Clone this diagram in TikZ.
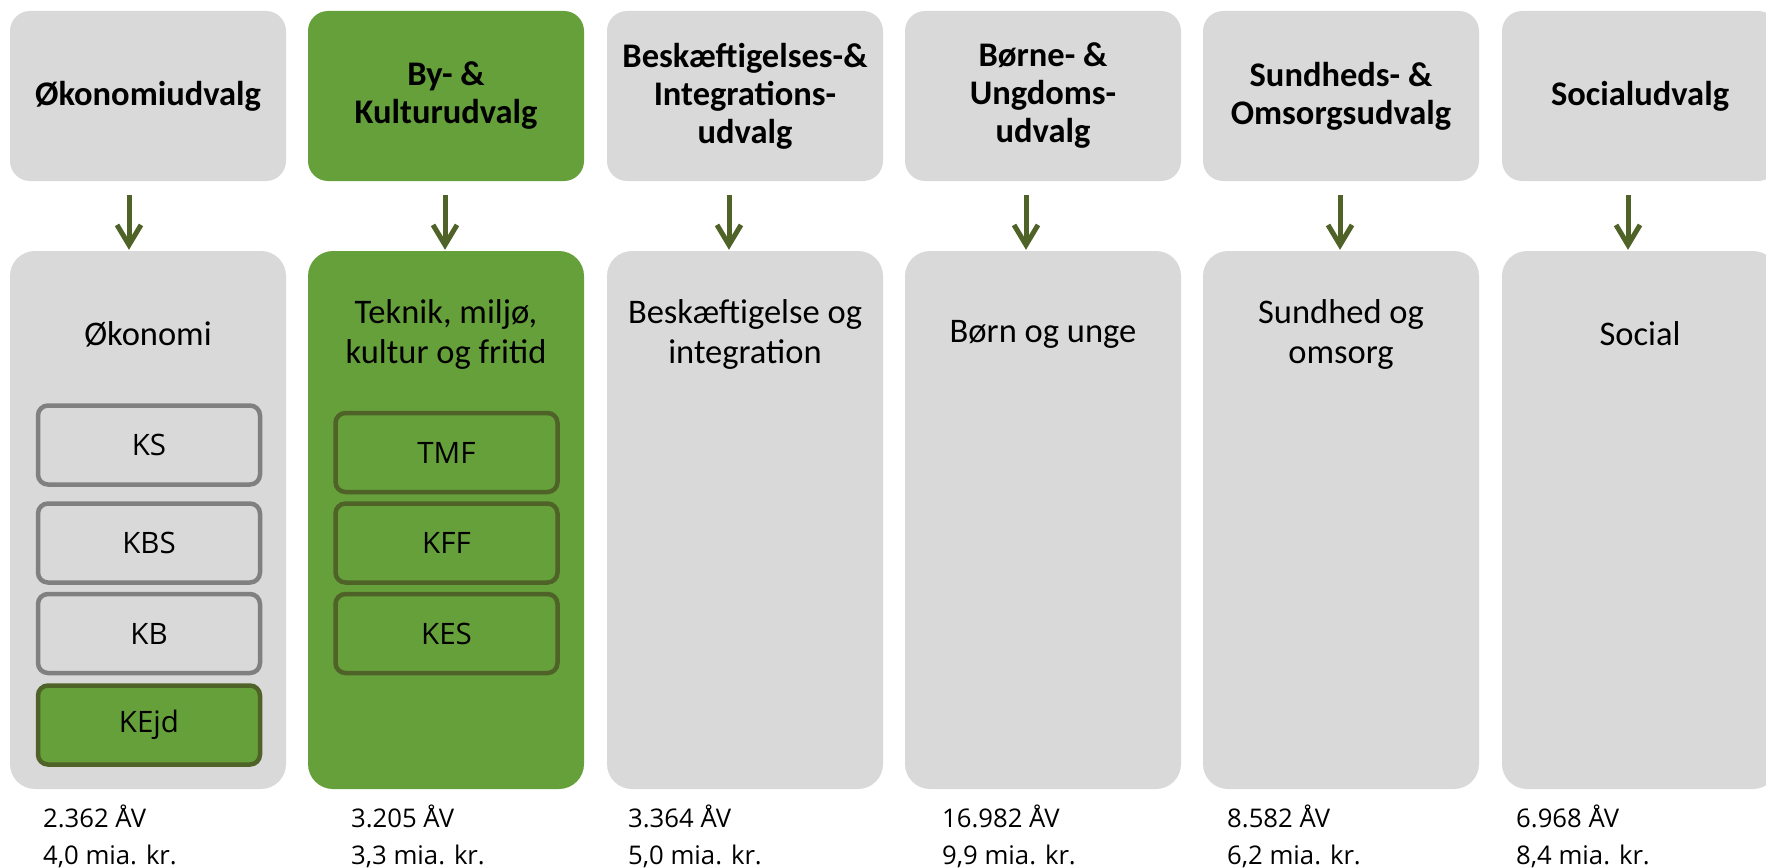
\documentclass[tikz,border=0pt]{standalone}
\usepackage{fontspec}
\setmainfont{Carlito}
\newfontfamily\osans{Open Sans}
\usetikzlibrary{arrows.meta}
\definecolor{boxgray}{HTML}{D9D9D9}
\definecolor{boxgreen}{HTML}{65A03B}
\definecolor{darkolive}{HTML}{4F6228}
\definecolor{bordergray}{HTML}{808080}
\tikzset{
  hdr/.style={fill=#1, rounded corners=20pt, minimum width=276pt, minimum height=170pt, inner sep=0pt, align=center, font=\fontsize{34.5}{38}\selectfont\bfseries},
  lowbox/.style={fill=#1, rounded corners=25pt, minimum width=276pt, minimum height=538pt, inner sep=0pt},
  lowtxt/.style={align=center, inner sep=0pt, font=\fontsize{34.5}{40}\selectfont},
  subbox/.style={draw=#1, line width=4.5pt, rounded corners=10pt, minimum width=222pt, minimum height=79pt, inner sep=0pt, font=\osans\fontsize{29.5}{34}\selectfont},
  subgray/.style={subbox=bordergray, fill=boxgray},
  subgreen/.style={subbox=darkolive, fill=boxgreen},
  arr/.style={draw=darkolive, line width=5pt, -{Straight Barb[length=20pt,width=24pt]}, shorten <=14pt, shorten >=1pt},
  foot/.style={anchor=base west, inner sep=0pt, font=\osans\fontsize{25.7}{30}\selectfont},
}
\begin{document}
\begin{tikzpicture}[x=1pt,y=-1pt]
\useasboundingbox (0,0) rectangle (1766,867);
\clip (0,0) rectangle (1766,867);
% headers
\node[hdr=boxgray]  (h1) at (148,96)  {Økonomiudvalg};
\node[hdr=boxgreen] (h2) at (446,96)  {By- \&\\Kulturudvalg};
\node[hdr=boxgray]  (h3) at (745,96)  {Beskæftigelses-\&\\Integrations-\\udvalg};
\node[hdr=boxgray]  (h4) at (1043,96) {Børne- \&\\Ungdoms-\\udvalg};
\node[hdr=boxgray]  (h5) at (1341,96) {Sundheds- \&\\Omsorgsudvalg};
\node[hdr=boxgray]  (h6) at (1640,96) {Socialudvalg};
% lower boxes
\node[lowbox=boxgray]  (l1) at (148,520)  {};
\node[lowbox=boxgreen] (l2) at (446,520)  {};
\node[lowbox=boxgray]  (l3) at (745,520)  {};
\node[lowbox=boxgray]  (l4) at (1043,520) {};
\node[lowbox=boxgray]  (l5) at (1341,520) {};
\node[lowbox=boxgray]  (l6) at (1640,520) {};
% lower texts
\node[lowtxt] (t1) at (148,334)  {Økonomi};
\node[lowtxt] (t2) at (446,334)  {Teknik, miljø,\\kultur og fritid};
\node[lowtxt] (t3) at (745,334)  {Beskæftigelse og\\integration};
\node[lowtxt] (t4) at (1043,334) {Børn og unge};
\node[lowtxt] (t5) at (1341,334) {Sundhed og\\omsorg};
\node[lowtxt] (t6) at (1640,334) {Social};
% sub boxes
\node[subgray]  (ks)   at (149,445)   {KS};
\node[subgray]  (kbs)  at (149,543)   {KBS};
\node[subgray]  (kb)   at (149,633.5) {KB};
\node[subgreen] (kejd) at (149,725)   {KEjd};
\node[subgreen] (tmf)  at (446.5,452.5){TMF};
\node[subgreen] (kff)  at (446.5,543)  {KFF};
\node[subgreen] (kes)  at (446.5,633.5){KES};
% arrows
\coordinate (a1) at (129,0);
\coordinate (a2) at (445,0);
\coordinate (a3) at (729,0);
\coordinate (a4) at (1026,0);
\coordinate (a5) at (1340,0);
\coordinate (a6) at (1628,0);
\draw[arr] (h1.south -| a1) -- (l1.north -| a1);
\draw[arr] (h2.south -| a2) -- (l2.north -| a2);
\draw[arr] (h3.south -| a3) -- (l3.north -| a3);
\draw[arr] (h4.south -| a4) -- (l4.north -| a4);
\draw[arr] (h5.south -| a5) -- (l5.north -| a5);
\draw[arr] (h6.south -| a6) -- (l6.north -| a6);
% footers
\node[foot] (f1a) at (43,827)   {2.362 ÅV};
\node[foot] (f1b) at (43,864)   {4,0 mia. kr.};
\node[foot] (f2a) at (351,827)  {3.205 ÅV};
\node[foot] (f2b) at (351,864)  {3,3 mia. kr.};
\node[foot] (f3a) at (628,827)  {3.364 ÅV};
\node[foot] (f3b) at (628,864)  {5,0 mia. kr.};
\node[foot] (f4a) at (942,827)  {16.982 ÅV};
\node[foot] (f4b) at (942,864)  {9,9 mia. kr.};
\node[foot] (f5a) at (1227,827) {8.582 ÅV};
\node[foot] (f5b) at (1227,864) {6,2 mia. kr.};
\node[foot] (f6a) at (1516,827) {6.968 ÅV};
\node[foot] (f6b) at (1516,864) {8,4 mia. kr.};
\end{tikzpicture}
\end{document}
